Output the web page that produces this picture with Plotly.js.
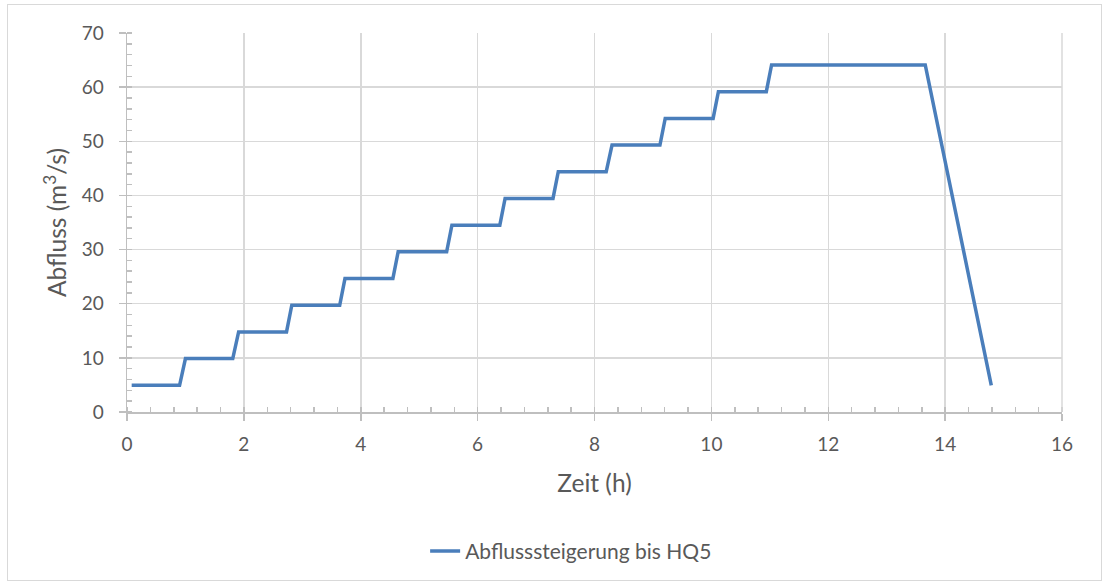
<!DOCTYPE html>
<html>
<head>
<meta charset="utf-8">
<script src="https://cdn.plot.ly/plotly-3.0.1.min.js"></script>
<style>
html,body{margin:0;padding:0;background:#fff;}
#wrap{position:relative;width:1105px;height:585px;}
#chart{width:1105px;height:585px;}
#frame{position:absolute;left:7px;top:4px;width:1093px;height:575px;border:1px solid #d9d9d9;pointer-events:none;}
</style>
</head>
<body>
<div id="wrap"><div id="chart"></div><div id="frame"></div></div>
<script>
// Time (h) and discharge (m³/s)
var timeH = [0.08, 0.90, 1.00, 1.81, 1.91, 2.73, 2.82, 3.64, 3.73, 4.55, 4.64, 5.47, 5.56, 6.38, 6.47, 7.29, 7.38, 8.20, 8.30, 9.12, 9.21, 10.03, 10.12, 10.94, 11.03, 13.66, 14.79];
var abfluss = [4.93, 4.93, 9.86, 9.86, 14.79, 14.79, 19.72, 19.72, 24.65, 24.65, 29.58, 29.58, 34.51, 34.51, 39.44, 39.44, 44.37, 44.37, 49.30, 49.30, 54.23, 54.23, 59.16, 59.16, 64.09, 64.09, 4.93];
var seriesName = "Abflusssteigerung bis HQ5";
var xTitle = "Zeit (h)";
var yTitle = "Abfluss (m<sup>3</sup>/s)";

var fontFam = "Lato, 'Open Sans', sans-serif";
var txt = "#595959";
var grid = "#d9d9d9";

var trace = {
  x: timeH, y: abfluss, type: "scatter", mode: "lines", name: seriesName,
  line: {color: "#4a7ebb", width: 3.5}
};

var layout = {
  width: 1105, height: 585,
  margin: {l: 127, r: 43, t: 33, b: 173},
  paper_bgcolor: "#fff", plot_bgcolor: "#fff",
  font: {family: fontFam, color: txt, size: 19},
  showlegend: true,
  legend: {orientation: "h", x: 0.475, xanchor: "center", y: -0.368, yanchor: "middle",
           font: {size: 21, color: txt}},
  xaxis: {
    range: [0, 16], dtick: 2, tick0: 0,
    showgrid: true, gridcolor: grid, gridwidth: 1.5,
    showline: true, linecolor: "#bfbfbf", linewidth: 1.5,
    zeroline: false,
    ticks: "outside", ticklen: 7, tickcolor: "#bfbfbf", tickwidth: 1.5,
    ticklabelstandoff: 8,
    minor: {dtick: 0.4, ticks: "inside", ticklen: 5, tickcolor: "#bfbfbf", showgrid: false},
    tickfont: {size: 19, color: txt},
    title: {text: xTitle, font: {size: 24.5, color: txt}, standoff: 20}
  },
  yaxis: {
    range: [0, 70], dtick: 10, tick0: 0,
    showgrid: true, gridcolor: grid, gridwidth: 1.5,
    showline: true, linecolor: "#bfbfbf", linewidth: 1.5,
    zeroline: false,
    ticks: "outside", ticklen: 7, tickcolor: "#bfbfbf", tickwidth: 1.5,
    ticklabelstandoff: 11,
    minor: {dtick: 2, ticks: "inside", ticklen: 5, tickcolor: "#bfbfbf", showgrid: false},
    tickfont: {size: 19, color: txt},
    title: {text: yTitle, font: {size: 24.5, color: txt}, standoff: 8}
  },
  shapes: [{type: "line", xref: "paper", yref: "paper", x0: 1, x1: 1, y0: 0, y1: 1,
            line: {color: grid, width: 1.5}}]
};

Plotly.newPlot("chart", [trace], layout, {displayModeBar: false, staticPlot: true});
</script>
</body>
</html>
